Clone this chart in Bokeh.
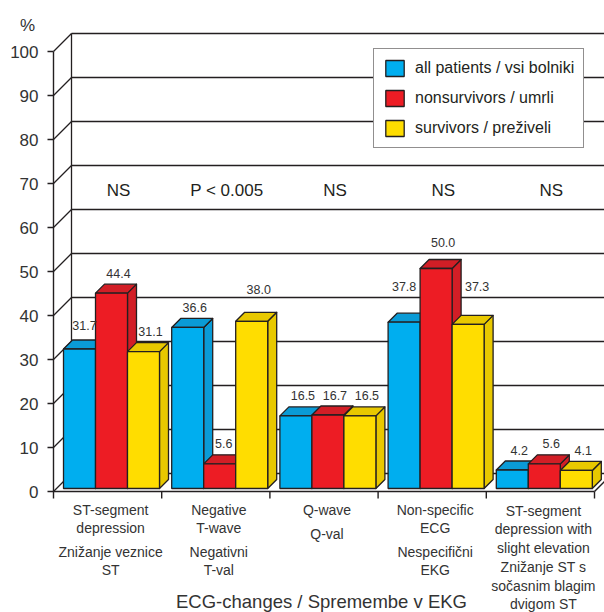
from bokeh.plotting import figure
from bokeh.models import Range1d, Legend, LegendItem
from bokeh.core.properties import value
from bokeh.embed import file_html
from bokeh.resources import INLINE

# ---------------- data ----------------
categories_en = [["ST-segment", "depression"],
                 ["Negative", "T-wave"],
                 ["Q-wave"],
                 ["Non-specific", "ECG"],
                 ["ST-segment", "depression with", "slight elevation"]]
categories_sl = [["Znižanje veznice", "ST"],
                 ["Negativni", "T-val"],
                 ["Q-val"],
                 ["Nespecifični", "EKG"],
                 ["Znižanje ST s", "sočasnim blagim", "dvigom ST"]]
series_names = ["all patients / vsi bolniki", "nonsurvivors / umrli", "survivors / preživeli"]
all_patients = [31.7, 36.6, 16.5, 37.8, 4.2]
nonsurvivors = [44.4, 5.6, 16.7, 50.0, 5.6]
survivors = [31.1, 38.0, 16.5, 37.3, 4.1]
significance = ["NS", "P < 0.005", "NS", "NS", "NS"]
y_ticks = list(range(0, 101, 10))
y_tick_labels = [str(v) for v in y_ticks]
y_unit = "%"
x_title = "ECG-changes / Spremembe v EKG"

# ---------------- style ----------------
FONT = "Liberation Sans"
INK = "#231f20"
TXT = "#333333"
front_colors = ["#00aeef", "#ed1c24", "#ffdd00"]
shade_colors = ["#0a9bd6", "#d21e26", "#e8c800"]
XPX, YPX = 108.2, 4.4          # pixels per data unit
WALL, BAR_D0, BAR_D, BAR_W, BAR_X0 = 18, 3, 9, 32, 10   # pixel sizes of the 3D look
label_nudge = {(0, 0): (-2, 3.5), (1, 1): (-3, 0), (1, 2): (0, 11.5),
               (3, 0): (-7, 16), (3, 1): (0, 6), (3, 2): (2, 18)}


def ux(px):
    return px / XPX


def uy(px):
    return px / YPX


series = [all_patients, nonsurvivors, survivors]
n = len(categories_en)
x_start, x_end = -ux(53), ux(604 - 53)
y_top, y_bot = uy(491), -uy(612 - 491)

p = figure(width=604, height=612, x_range=Range1d(x_start, x_end), y_range=Range1d(y_bot, y_top),
           output_backend="svg", toolbar_location=None,
           min_border_left=0, min_border_right=0, min_border_top=0, min_border_bottom=0,
           x_axis_location=None, y_axis_location=None, outline_line_color=None)
p.grid.visible = False
p.background_fill_color = "white"

# value axis (front)
k = len(y_ticks)
p.segment(x0=[0], y0=[0], x1=[0], y1=[100], line_color=INK, line_width=1.4)
p.segment(x0=[-ux(6)] * k, y0=y_ticks, x1=[0] * k, y1=y_ticks, line_color=INK, line_width=1.4)
p.text(x=[-ux(15)] * k, y=y_ticks, text=y_tick_labels, text_font=value(FONT), text_font_size="17px",
       text_color=TXT, text_align="right", text_baseline="middle")
p.text(x=[-ux(26)], y=[uy(491 - 25)], text=[y_unit], text_font=value(FONT), text_font_size="17px",
       text_color=TXT, text_align="center", text_baseline="middle")

# back wall grid, diagonals, floor
wx, wy = ux(WALL), uy(WALL)
p.segment(x0=[wx] * k, y0=[v + wy for v in y_ticks], x1=[x_end] * k,
          y1=[v + wy for v in y_ticks], line_color=INK, line_width=1.3)
p.segment(x0=[0] * k, y0=y_ticks, x1=[wx] * k,
          y1=[v + wy for v in y_ticks], line_color=INK, line_width=1.3)
p.segment(x0=[wx], y0=[wy], x1=[wx], y1=[100 + wy], line_color=INK, line_width=1.3)
p.segment(x0=[0, n], y0=[0, 0], x1=[n, n + wx], y1=[0, wy], line_color=INK, line_width=1.4)
p.segment(x0=list(range(n + 1)), y0=[0] * (n + 1), x1=list(range(n + 1)), y1=[-uy(7)] * (n + 1),
          line_color=INK, line_width=1.4)

# bars: sides and tops (left to right), then fronts
xs, ys, cols = [], [], []
fronts = {j: dict(left=[], right=[], bottom=[], top=[]) for j in range(3)}
lab_x, lab_y, lab_t = [], [], []
for i in range(n):
    for j in range(3):
        v = series[j][i]
        L = i + ux(BAR_X0 + j * BAR_W)
        R = L + ux(BAR_W)
        B = uy(BAR_D0)
        T = B + v
        dx, dy = ux(BAR_D), uy(BAR_D)
        xs.append([R, R + dx, R + dx, R]); ys.append([B, B + dy, T + dy, T]); cols.append(shade_colors[j])
        xs.append([L, R, R + dx, L + dx]); ys.append([T, T, T + dy, T + dy]); cols.append(shade_colors[j])
        f = fronts[j]
        f["left"].append(L); f["right"].append(R); f["bottom"].append(B); f["top"].append(T)
        ndx, ndy = label_nudge.get((i, j), (0, 0))
        lab_x.append((L + R) / 2 + ux(7 + ndx))
        lab_y.append(T + uy(20 + ndy))
        lab_t.append(f"{v:.1f}")

p.patches(xs=xs, ys=ys, fill_color=cols, line_color=INK, line_width=1.3, line_join="round")
front_renderers = []
for j in range(3):
    r = p.quad(left=fronts[j]["left"], right=fronts[j]["right"], bottom=fronts[j]["bottom"],
               top=fronts[j]["top"], fill_color=front_colors[j], line_color=INK, line_width=1.3)
    front_renderers.append(r)

p.text(x=lab_x, y=lab_y, text=lab_t, text_font=value(FONT), text_font_size="12.5px",
       text_color=TXT, text_align="center", text_baseline="middle")

# significance row
p.text(x=[i + 0.5 + ux(11) for i in range(n)], y=[uy(491 - 190)] * n, text=significance,
       text_font=value(FONT), text_font_size="17px", text_color=INK,
       text_align="center", text_baseline="middle")

# category labels
cx, cy, ct = [], [], []
for i in range(n):
    lines_en, lines_sl = categories_en[i], categories_sl[i]
    total = len(lines_en) + len(lines_sl)
    if total > 4:
        py, step, gap = 510, 18.6, 19.5
    else:
        py, step, gap = 509, 18, 24.5
    for t in lines_en:
        cx.append(i + 0.5 + ux(3)); cy.append(uy(491 - py)); ct.append(t)
        py += step
    py += gap - step
    for t in lines_sl:
        cx.append(i + 0.5 + ux(3)); cy.append(uy(491 - py)); ct.append(t)
        py += step
p.text(x=cx, y=cy, text=ct, text_font=value(FONT), text_font_size="14px", text_color=TXT,
       text_align="center", text_baseline="middle")

p.text(x=[ux(321 - 53)], y=[uy(491 - 601)], text=[x_title], text_font=value(FONT),
       text_font_size="18.5px", text_color=TXT, text_align="center", text_baseline="middle")

legend = Legend(items=[LegendItem(label=series_names[j], renderers=[front_renderers[j]]) for j in range(3)],
                location=(373, 464), glyph_width=23, glyph_height=20, padding=9, spacing=10,
                label_standoff=9, margin=0, label_text_font=FONT, label_text_font_size="16px",
                label_text_color=INK, border_line_color=INK, border_line_width=1.5,
                background_fill_color="white", background_fill_alpha=1.0, label_height=20)
p.add_layout(legend)

open("out.html", "w").write(file_html(p, INLINE))
